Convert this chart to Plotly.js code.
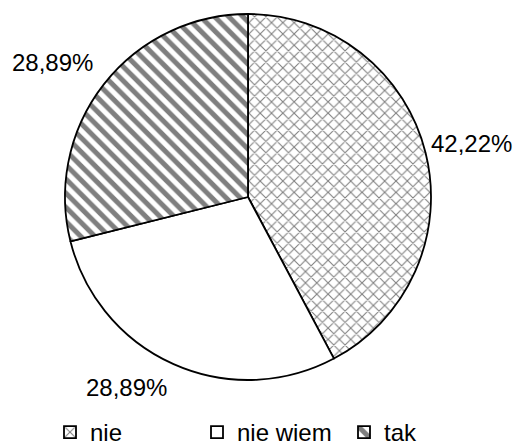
<!DOCTYPE html>
<html>
<head>
<meta charset="utf-8">
<script src="https://cdn.plot.ly/plotly-3.0.1.min.js"></script>
<style>html,body{margin:0;padding:0;background:#fff;}#chart{width:516px;height:448px;}</style>
</head>
<body>
<div id="chart"></div>
<script>
const categories = ["nie", "nie wiem", "tak"];
const percentValues = [42.22, 28.89, 28.89];

const W = 516, H = 448;
const FONT = "Liberation Sans, Arial, sans-serif";

// label anchor positions in pixels (layout only)
const labelPos = [[471, 143], [126, 387], [52, 62]];

const fmt = v => v.toFixed(2).replace('.', ',') + '%';

const trace = {
  type: 'pie',
  labels: categories,
  values: percentValues,
  sort: false,
  direction: 'clockwise',
  rotation: 0,
  textinfo: 'none',
  hoverinfo: 'none',
  domain: {x: [65 / W, 431 / W], y: [1 - 380 / H, 1 - 14 / H]},
  marker: {
    colors: ['#ffffff', '#ffffff', '#ffffff'],
    line: {color: '#000000', width: 1.8},
    pattern: {
      shape: ['x', '', '\\'],
      fgcolor: '#000000',
      bgcolor: '#ffffff',
      size: [8, 8, 10],
      solidity: [0.25, 0.3, 0.5],
      fillmode: 'overlay'
    }
  }
};

const annotations = categories.map((c, i) => ({
  xref: 'paper', yref: 'paper',
  x: labelPos[i][0] / W, y: 1 - labelPos[i][1] / H,
  xanchor: 'center', yanchor: 'middle',
  text: fmt(percentValues[i]),
  showarrow: false,
  font: {family: FONT, size: 24, color: '#000000'}
}));

const layout = {
  width: W, height: H,
  margin: {l: 0, r: 0, t: 0, b: 0, autoexpand: false},
  paper_bgcolor: '#ffffff',
  plot_bgcolor: '#ffffff',
  showlegend: true,
  legend: {
    orientation: 'h',
    x: 50 / W, xanchor: 'left',
    y: -7 / H, yanchor: 'bottom',
    entrywidth: 102,
    font: {family: FONT, size: 24, color: '#000000'},
    bgcolor: 'rgba(0,0,0,0)'
  },
  annotations: annotations,
  font: {family: FONT, size: 24, color: '#000000'}
};

Plotly.newPlot('chart', [trace], layout, {staticPlot: true, displayModeBar: false});
</script>
</body>
</html>
